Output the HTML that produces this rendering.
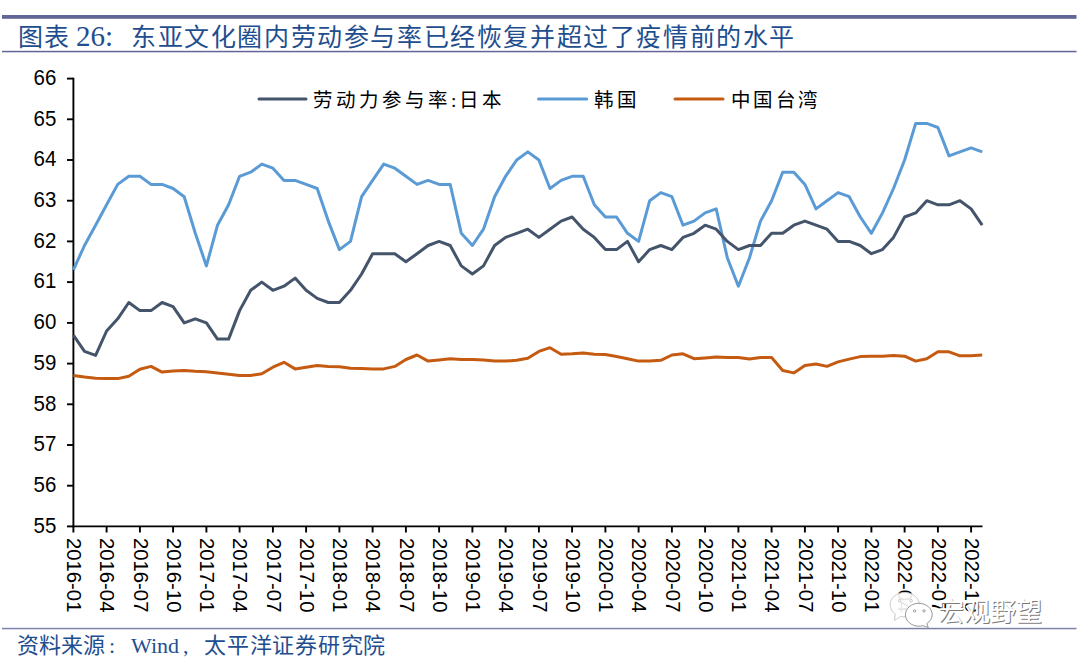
<!DOCTYPE html>
<html lang="zh-CN"><head><meta charset="utf-8">
<style>
html,body{margin:0;padding:0;background:#fff;}
body{width:1080px;height:660px;overflow:hidden;position:relative;}
.t{position:absolute;white-space:nowrap;font-family:"Liberation Serif",serif;color:#1f4e8f;}
svg{position:absolute;left:0;top:0;}
</style></head><body>
<svg width="1080" height="660" viewBox="0 0 1080 660">
<rect x="2" y="15" width="1074.5" height="3.8" fill="#636497"/>
<rect x="2" y="50.8" width="1074.5" height="1.5" fill="#636497"/>
<rect x="2" y="627.8" width="1074.5" height="1.5" fill="#7e7fab"/>
<g stroke="#000" stroke-width="1.9" fill="none">
<line x1="73.4" y1="77.7" x2="73.4" y2="527.3"/>
<line x1="72.5" y1="526.4" x2="982.5" y2="526.4"/>
<line x1="67" y1="78.6" x2="73.4" y2="78.6"/>
<line x1="67" y1="119.3" x2="73.4" y2="119.3"/>
<line x1="67" y1="160.0" x2="73.4" y2="160.0"/>
<line x1="67" y1="200.7" x2="73.4" y2="200.7"/>
<line x1="67" y1="241.4" x2="73.4" y2="241.4"/>
<line x1="67" y1="282.1" x2="73.4" y2="282.1"/>
<line x1="67" y1="322.9" x2="73.4" y2="322.9"/>
<line x1="67" y1="363.6" x2="73.4" y2="363.6"/>
<line x1="67" y1="404.3" x2="73.4" y2="404.3"/>
<line x1="67" y1="445.0" x2="73.4" y2="445.0"/>
<line x1="67" y1="485.7" x2="73.4" y2="485.7"/>
<line x1="67" y1="526.4" x2="73.4" y2="526.4"/>
<line x1="73.4" y1="526.4" x2="73.4" y2="532.5"/>
<line x1="106.6" y1="526.4" x2="106.6" y2="532.5"/>
<line x1="139.9" y1="526.4" x2="139.9" y2="532.5"/>
<line x1="173.1" y1="526.4" x2="173.1" y2="532.5"/>
<line x1="206.4" y1="526.4" x2="206.4" y2="532.5"/>
<line x1="239.6" y1="526.4" x2="239.6" y2="532.5"/>
<line x1="272.9" y1="526.4" x2="272.9" y2="532.5"/>
<line x1="306.1" y1="526.4" x2="306.1" y2="532.5"/>
<line x1="339.4" y1="526.4" x2="339.4" y2="532.5"/>
<line x1="372.6" y1="526.4" x2="372.6" y2="532.5"/>
<line x1="405.9" y1="526.4" x2="405.9" y2="532.5"/>
<line x1="439.1" y1="526.4" x2="439.1" y2="532.5"/>
<line x1="472.4" y1="526.4" x2="472.4" y2="532.5"/>
<line x1="505.6" y1="526.4" x2="505.6" y2="532.5"/>
<line x1="538.9" y1="526.4" x2="538.9" y2="532.5"/>
<line x1="572.1" y1="526.4" x2="572.1" y2="532.5"/>
<line x1="605.4" y1="526.4" x2="605.4" y2="532.5"/>
<line x1="638.6" y1="526.4" x2="638.6" y2="532.5"/>
<line x1="671.9" y1="526.4" x2="671.9" y2="532.5"/>
<line x1="705.1" y1="526.4" x2="705.1" y2="532.5"/>
<line x1="738.4" y1="526.4" x2="738.4" y2="532.5"/>
<line x1="771.6" y1="526.4" x2="771.6" y2="532.5"/>
<line x1="804.9" y1="526.4" x2="804.9" y2="532.5"/>
<line x1="838.1" y1="526.4" x2="838.1" y2="532.5"/>
<line x1="871.4" y1="526.4" x2="871.4" y2="532.5"/>
<line x1="904.6" y1="526.4" x2="904.6" y2="532.5"/>
<line x1="937.9" y1="526.4" x2="937.9" y2="532.5"/>
<line x1="971.1" y1="526.4" x2="971.1" y2="532.5"/>
</g>
<g font-family="Liberation Sans, sans-serif" font-size="20.5" fill="#000" text-anchor="end">
<text transform="translate(56.4,84.8) scale(1,1.1)">66</text>
<text transform="translate(56.4,125.5) scale(1,1.1)">65</text>
<text transform="translate(56.4,166.2) scale(1,1.1)">64</text>
<text transform="translate(56.4,206.9) scale(1,1.1)">63</text>
<text transform="translate(56.4,247.6) scale(1,1.1)">62</text>
<text transform="translate(56.4,288.3) scale(1,1.1)">61</text>
<text transform="translate(56.4,329.1) scale(1,1.1)">60</text>
<text transform="translate(56.4,369.8) scale(1,1.1)">59</text>
<text transform="translate(56.4,410.5) scale(1,1.1)">58</text>
<text transform="translate(56.4,451.2) scale(1,1.1)">57</text>
<text transform="translate(56.4,491.9) scale(1,1.1)">56</text>
<text transform="translate(56.4,532.6) scale(1,1.1)">55</text>
</g>
<g font-family="Liberation Sans, sans-serif" font-size="20.3" fill="#000">
<text transform="translate(67.1,538) rotate(90)">2016-01</text>
<text transform="translate(100.3,538) rotate(90)">2016-04</text>
<text transform="translate(133.6,538) rotate(90)">2016-07</text>
<text transform="translate(166.8,538) rotate(90)">2016-10</text>
<text transform="translate(200.1,538) rotate(90)">2017-01</text>
<text transform="translate(233.3,538) rotate(90)">2017-04</text>
<text transform="translate(266.6,538) rotate(90)">2017-07</text>
<text transform="translate(299.8,538) rotate(90)">2017-10</text>
<text transform="translate(333.1,538) rotate(90)">2018-01</text>
<text transform="translate(366.3,538) rotate(90)">2018-04</text>
<text transform="translate(399.6,538) rotate(90)">2018-07</text>
<text transform="translate(432.8,538) rotate(90)">2018-10</text>
<text transform="translate(466.1,538) rotate(90)">2019-01</text>
<text transform="translate(499.3,538) rotate(90)">2019-04</text>
<text transform="translate(532.6,538) rotate(90)">2019-07</text>
<text transform="translate(565.8,538) rotate(90)">2019-10</text>
<text transform="translate(599.1,538) rotate(90)">2020-01</text>
<text transform="translate(632.3,538) rotate(90)">2020-04</text>
<text transform="translate(665.6,538) rotate(90)">2020-07</text>
<text transform="translate(698.8,538) rotate(90)">2020-10</text>
<text transform="translate(732.1,538) rotate(90)">2021-01</text>
<text transform="translate(765.3,538) rotate(90)">2021-04</text>
<text transform="translate(798.6,538) rotate(90)">2021-07</text>
<text transform="translate(831.8,538) rotate(90)">2021-10</text>
<text transform="translate(865.1,538) rotate(90)">2022-01</text>
<text transform="translate(898.3,538) rotate(90)">2022-04</text>
<text transform="translate(931.6,538) rotate(90)">2022-07</text>
<text transform="translate(964.8,538) rotate(90)">2022-10</text>
</g>
<polyline fill="none" stroke="#5b9bd5" stroke-width="3" stroke-linejoin="round" points="73.4,269.9 84.5,245.5 95.6,225.2 106.6,204.8 117.7,184.4 128.8,176.3 139.9,176.3 151.0,184.4 162.1,184.4 173.1,188.5 184.2,196.7 195.3,233.3 206.4,265.9 217.5,225.2 228.6,204.8 239.6,176.3 250.7,172.2 261.8,164.1 272.9,168.2 284.0,180.4 295.1,180.4 306.1,184.4 317.2,188.5 328.3,221.1 339.4,249.6 350.5,241.4 361.6,196.7 372.6,180.4 383.7,164.1 394.8,168.2 405.9,176.3 417.0,184.4 428.1,180.4 439.1,184.4 450.2,184.4 461.3,233.3 472.4,245.5 483.5,229.2 494.6,196.7 505.6,176.3 516.7,160.0 527.8,151.9 538.9,160.0 550.0,188.5 561.1,180.4 572.1,176.3 583.2,176.3 594.3,204.8 605.4,217.0 616.5,217.0 627.5,233.3 638.6,241.4 649.7,200.7 660.8,192.6 671.9,196.7 683.0,225.2 694.0,221.1 705.1,212.9 716.2,208.9 727.3,257.7 738.4,286.2 749.5,257.7 760.5,221.1 771.6,200.7 782.7,172.2 793.8,172.2 804.9,184.4 816.0,208.9 827.0,200.7 838.1,192.6 849.2,196.7 860.3,217.0 871.4,233.3 882.5,212.9 893.5,188.5 904.6,160.0 915.7,123.4 926.8,123.4 937.9,127.5 949.0,155.9 960.0,151.9 971.1,147.8 982.2,151.9"/>
<polyline fill="none" stroke="#44546a" stroke-width="3" stroke-linejoin="round" points="73.4,335.1 84.5,351.4 95.6,355.4 106.6,331.0 117.7,318.8 128.8,302.5 139.9,310.6 151.0,310.6 162.1,302.5 173.1,306.6 184.2,322.9 195.3,318.8 206.4,322.9 217.5,339.1 228.6,339.1 239.6,310.6 250.7,290.3 261.8,282.1 272.9,290.3 284.0,286.2 295.1,278.1 306.1,290.3 317.2,298.4 328.3,302.5 339.4,302.5 350.5,290.3 361.6,274.0 372.6,253.7 383.7,253.7 394.8,253.7 405.9,261.8 417.0,253.7 428.1,245.5 439.1,241.4 450.2,245.5 461.3,265.9 472.4,274.0 483.5,265.9 494.6,245.5 505.6,237.4 516.7,233.3 527.8,229.2 538.9,237.4 550.0,229.2 561.1,221.1 572.1,217.0 583.2,229.2 594.3,237.4 605.4,249.6 616.5,249.6 627.5,241.4 638.6,261.8 649.7,249.6 660.8,245.5 671.9,249.6 683.0,237.4 694.0,233.3 705.1,225.2 716.2,229.2 727.3,241.4 738.4,249.6 749.5,245.5 760.5,245.5 771.6,233.3 782.7,233.3 793.8,225.2 804.9,221.1 816.0,225.2 827.0,229.2 838.1,241.4 849.2,241.4 860.3,245.5 871.4,253.7 882.5,249.6 893.5,237.4 904.6,217.0 915.7,212.9 926.8,200.7 937.9,204.8 949.0,204.8 960.0,200.7 971.1,208.9 982.2,225.2"/>
<polyline fill="none" stroke="#c55a11" stroke-width="3" stroke-linejoin="round" points="73.4,375.4 84.5,377.0 95.6,378.2 106.6,378.6 117.7,378.6 128.8,376.2 139.9,369.3 151.0,366.4 162.1,372.1 173.1,370.9 184.2,370.5 195.3,371.3 206.4,371.7 217.5,372.9 228.6,374.2 239.6,375.4 250.7,375.4 261.8,373.7 272.9,367.2 284.0,362.3 295.1,368.9 306.1,367.2 317.2,365.6 328.3,366.4 339.4,366.8 350.5,368.3 361.6,368.5 372.6,368.9 383.7,368.9 394.8,366.4 405.9,359.5 417.0,355.0 428.1,361.1 439.1,359.9 450.2,358.7 461.3,359.5 472.4,359.5 483.5,359.9 494.6,361.1 505.6,361.1 516.7,360.3 527.8,358.3 538.9,351.4 550.0,347.7 561.1,354.2 572.1,353.8 583.2,353.0 594.3,354.2 605.4,354.6 616.5,356.6 627.5,358.7 638.6,361.1 649.7,361.1 660.8,360.3 671.9,355.0 683.0,353.8 694.0,358.7 705.1,357.9 716.2,357.1 727.3,357.5 738.4,357.5 749.5,359.1 760.5,357.5 771.6,357.5 782.7,370.5 793.8,372.9 804.9,365.6 816.0,364.0 827.0,366.4 838.1,361.9 849.2,359.1 860.3,356.6 871.4,356.2 882.5,356.2 893.5,355.4 904.6,356.2 915.7,361.1 926.8,358.7 937.9,351.8 949.0,351.8 960.0,355.8 971.1,355.8 982.2,355.0"/>
<line x1="259" y1="98.9" x2="306" y2="98.9" stroke="#44546a" stroke-width="3" stroke-linecap="round"/>
<line x1="538.5" y1="98.9" x2="586.7" y2="98.9" stroke="#5b9bd5" stroke-width="3" stroke-linecap="round"/>
<line x1="675" y1="98.9" x2="723" y2="98.9" stroke="#c55a11" stroke-width="3" stroke-linecap="round"/>
<g font-family="Liberation Serif, serif" font-size="19.5" fill="#000">
<text x="313" y="106.5" letter-spacing="3.0">劳动力参与率:日本</text>
<text x="593.5" y="106.5" letter-spacing="3.3">韩国</text>
<text x="731" y="106.5" letter-spacing="2.3">中国台湾</text>
</g>
<g>
<path d="M904.7,592.5 C896.5,592.5 890.1,598 890.1,604.6 C890.1,608.6 892.2,611.8 895.3,614 L894.3,620.5 L900.6,616.4 C901.9,616.7 903.3,616.8 904.7,616.8 C912.8,616.8 919.3,611.2 919.3,604.6 C919.3,598 912.8,592.5 904.7,592.5 Z" fill="#fff" fill-opacity="0.9" stroke="#c4c4c4" stroke-width="0.9"/>
<circle cx="899.6" cy="600.7" r="1.3" fill="none" stroke="#bbb" stroke-width="0.8"/>
<circle cx="911.1" cy="600.7" r="1.3" fill="none" stroke="#bbb" stroke-width="0.8"/>
<path d="M918.8,603.3 C911.4,603.3 905.4,608.4 905.4,614.75 C905.4,621 911.4,626.2 918.8,626.2 C920.2,626.2 921.5,626 922.8,625.7 L928.3,627.5 L926.8,623.6 C930,621.5 932.2,618.3 932.2,614.75 C932.2,608.4 926.2,603.3 918.8,603.3 Z" fill="#fff" stroke="#8a8a8a" stroke-width="0.9"/>
<circle cx="914.6" cy="610.9" r="1.2" fill="none" stroke="#888" stroke-width="0.8"/>
<circle cx="924" cy="610.9" r="1.2" fill="none" stroke="#888" stroke-width="0.8"/>
<text x="938.6" y="621.6" font-family="Liberation Sans, sans-serif" font-size="26" fill="#7a7a7a">宏观野望</text>
<text x="937.6" y="620.6" font-family="Liberation Sans, sans-serif" font-size="26" fill="#fff">宏观野望</text>
</g>
</svg>
<div class="t" style="left:17.5px;top:21.5px;font-size:25px;line-height:32px;letter-spacing:1px">图表</div>
<div class="t" style="left:76px;top:20px;font-size:29px;line-height:32px;">26:</div>
<div class="t" style="left:131px;top:21.5px;font-size:25px;line-height:32px;letter-spacing:1.6px">东亚文化圈内劳动参与率已经恢复并超过了疫情前的水平</div>
<div class="t" style="left:17px;top:632.5px;font-size:22px;line-height:26px;">资料来源</div>
<div class="t" style="left:109px;top:632.5px;font-size:22px;line-height:26px;">:</div>
<div class="t" style="left:131px;top:632.5px;font-size:22px;line-height:26px;">Wind</div>
<div class="t" style="left:183px;top:632.5px;font-size:22px;line-height:26px;">,</div>
<div class="t" style="left:204px;top:632.5px;font-size:22px;line-height:26px;letter-spacing:0.75px">太平洋证券研究院</div>
</body></html>
